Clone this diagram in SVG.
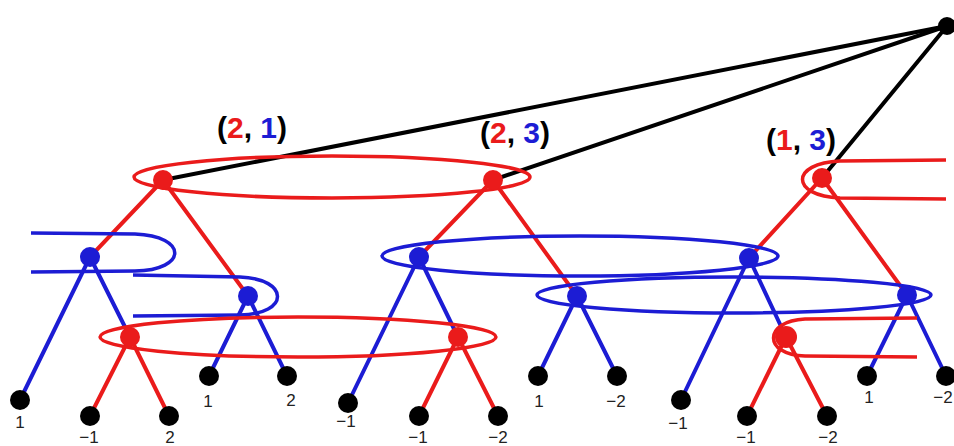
<svg xmlns="http://www.w3.org/2000/svg" width="954" height="446" viewBox="0 0 954 446">
<style>
.r{stroke:#ea1b1b}
.b{stroke:#1c1cd4}
.k{stroke:#000}
#edges line{stroke-width:4;stroke-linecap:round}
.set{fill:none;stroke-width:3.5}
.nr{fill:#ea1b1b}
.nb{fill:#1c1cd4}
.nk{fill:#000}
.lab{font-family:"Liberation Sans",Arial,sans-serif;font-size:17px;fill:#222;text-anchor:middle}
.pay{font-family:"Liberation Sans",Arial,sans-serif;font-size:30px;font-weight:bold}
</style>
<rect width="954" height="446" fill="#fff"/>
<g id="edges">
  <line class="k" x1="947" y1="26" x2="163" y2="180"/>
  <line class="k" x1="947" y1="26" x2="493" y2="180"/>
  <line class="k" x1="947" y1="26" x2="822" y2="178"/>
  <line class="r" x1="163" y1="180" x2="90" y2="257"/>
  <line class="r" x1="163" y1="180" x2="248" y2="296"/>
  <line class="b" x1="90" y1="257" x2="20" y2="400"/>
  <line class="b" x1="90" y1="257" x2="130" y2="337"/>
  <line class="r" x1="130" y1="337" x2="90" y2="416"/>
  <line class="r" x1="130" y1="337" x2="169" y2="416"/>
  <line class="b" x1="248" y1="296" x2="209" y2="376"/>
  <line class="b" x1="248" y1="296" x2="287" y2="376"/>
  <line class="r" x1="493" y1="180" x2="419" y2="257"/>
  <line class="r" x1="493" y1="180" x2="577" y2="296"/>
  <line class="b" x1="419" y1="257" x2="348" y2="403"/>
  <line class="b" x1="419" y1="257" x2="458" y2="337"/>
  <line class="r" x1="458" y1="337" x2="419" y2="416"/>
  <line class="r" x1="458" y1="337" x2="498" y2="416"/>
  <line class="b" x1="577" y1="296" x2="538" y2="376"/>
  <line class="b" x1="577" y1="296" x2="617" y2="376"/>
  <line class="r" x1="822" y1="178" x2="749" y2="258"/>
  <line class="r" x1="822" y1="178" x2="907" y2="295"/>
  <line class="b" x1="749" y1="258" x2="681" y2="400"/>
  <line class="b" x1="749" y1="258" x2="786" y2="337"/>
  <line class="r" x1="786" y1="337" x2="747" y2="416"/>
  <line class="r" x1="786" y1="337" x2="827" y2="416"/>
  <line class="b" x1="907" y1="295" x2="867" y2="376"/>
  <line class="b" x1="907" y1="295" x2="946" y2="376"/>
</g>
<g id="information-sets">
  <ellipse class="set r" cx="332" cy="177" rx="198" ry="21"/>
  <path class="set r" d="M946,160 L840,161 C790,163 790,196 840,198 L946,199"/>
  <path class="set b" d="M31,233 L135,234 C188,236 188,270 135,271 L31,272"/>
  <path class="set b" d="M133,275 L240,277 C290,279 290,314 240,315 L133,316"/>
  <ellipse class="set b" cx="580" cy="256" rx="198" ry="20"/>
  <ellipse class="set b" cx="734" cy="295" rx="197" ry="18"/>
  <ellipse class="set r" cx="298" cy="337" rx="198" ry="20"/>
  <path class="set r" d="M917,318 L805,319 C763,321 763,355 805,356 L917,357"/>
</g>
<g id="root"><circle class="nk" cx="947" cy="26" r="9"/></g>
<g id="p1-a"><circle class="nr" cx="163" cy="180" r="10"/></g>
<g id="p1-b"><circle class="nr" cx="493" cy="180" r="10"/></g>
<g id="p1-c"><circle class="nr" cx="822" cy="178" r="10"/></g>
<g id="p2-d"><circle class="nb" cx="90" cy="257" r="10"/></g>
<g id="p2-e"><circle class="nb" cx="248" cy="296" r="10"/></g>
<g id="p2-f"><circle class="nb" cx="419" cy="257" r="10"/></g>
<g id="p2-h"><circle class="nb" cx="577" cy="296" r="10"/></g>
<g id="p2-g"><circle class="nb" cx="749" cy="258" r="10"/></g>
<g id="p2-i"><circle class="nb" cx="907" cy="295" r="10"/></g>
<g id="p1-j"><circle class="nr" cx="130" cy="337" r="10"/></g>
<g id="p1-k"><circle class="nr" cx="458" cy="337" r="10"/></g>
<g id="p1-l"><circle class="nr" cx="786" cy="337" r="11"/></g>
<g id="leaf-1"><circle class="nk" cx="20" cy="400" r="10"/><text class="lab" x="20" y="428">1</text></g>
<g id="leaf-2"><circle class="nk" cx="90" cy="416" r="10"/><text class="lab" x="89" y="443">−1</text></g>
<g id="leaf-3"><circle class="nk" cx="169" cy="416" r="10"/><text class="lab" x="170" y="443">2</text></g>
<g id="leaf-4"><circle class="nk" cx="209" cy="376" r="10"/><text class="lab" x="208" y="407">1</text></g>
<g id="leaf-5"><circle class="nk" cx="287" cy="376" r="10"/><text class="lab" x="291" y="406">2</text></g>
<g id="leaf-6"><circle class="nk" cx="348" cy="403" r="10"/><text class="lab" x="346" y="427">−1</text></g>
<g id="leaf-7"><circle class="nk" cx="419" cy="416" r="10"/><text class="lab" x="418" y="443">−1</text></g>
<g id="leaf-8"><circle class="nk" cx="498" cy="416" r="10"/><text class="lab" x="498" y="443">−2</text></g>
<g id="leaf-9"><circle class="nk" cx="538" cy="376" r="10"/><text class="lab" x="539" y="407">1</text></g>
<g id="leaf-10"><circle class="nk" cx="617" cy="376" r="10"/><text class="lab" x="616" y="407">−2</text></g>
<g id="leaf-11"><circle class="nk" cx="681" cy="400" r="10"/><text class="lab" x="678" y="429">−1</text></g>
<g id="leaf-12"><circle class="nk" cx="747" cy="416" r="10"/><text class="lab" x="746" y="443">−1</text></g>
<g id="leaf-13"><circle class="nk" cx="827" cy="416" r="10"/><text class="lab" x="828" y="443">−2</text></g>
<g id="leaf-14"><circle class="nk" cx="867" cy="376" r="10"/><text class="lab" x="869" y="403">1</text></g>
<g id="leaf-15"><circle class="nk" cx="946" cy="376" r="10"/><text class="lab" x="943" y="403">−2</text></g>
<g id="labels">
  <text class="pay" x="217" y="138">(<tspan fill="#ea1b1b">2</tspan>, <tspan fill="#1c1cd4">1</tspan>)</text>
  <text class="pay" x="480" y="143">(<tspan fill="#ea1b1b">2</tspan>, <tspan fill="#1c1cd4">3</tspan>)</text>
  <text class="pay" x="766" y="150">(<tspan fill="#ea1b1b">1</tspan>, <tspan fill="#1c1cd4">3</tspan>)</text>
</g>
</svg>
